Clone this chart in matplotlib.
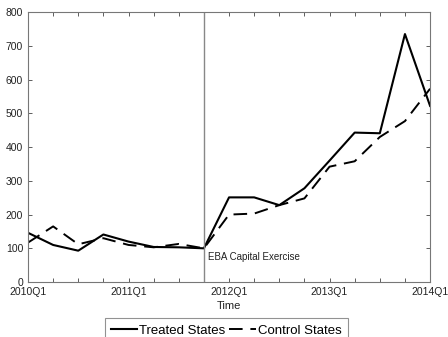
import matplotlib
matplotlib.use("Agg")
import matplotlib.pyplot as plt
import numpy as np

# -----------------------------
# Data
# -----------------------------
quarters = ["2010Q1", "2010Q2", "2010Q3", "2010Q4",
            "2011Q1", "2011Q2", "2011Q3", "2011Q4",
            "2012Q1", "2012Q2", "2012Q3", "2012Q4",
            "2013Q1", "2013Q2", "2013Q3", "2013Q4",
            "2014Q1"]

treated = [146, 110, 93, 141, 120, 104, 103, 100,
           251, 251, 228, 278, 360, 443, 441, 735, 522]

control = [117, 165, 112, 130, 110, 103, 113, 100,
           200, 203, 228, 248, 342, 358, 430, 477, 573]

event_quarter = "2011Q4"
event_label = "EBA Capital Exercise"

y_ticks = [0, 100, 200, 300, 400, 500, 600, 700, 800]

plt.rcParams["font.family"] = ["Liberation Sans", "DejaVu Sans"]

x = np.arange(len(quarters))
event_x = quarters.index(event_quarter)

fig = plt.figure(figsize=(4.48, 3.37), dpi=100)
ax = fig.add_axes([0.0625, 0.163, 0.8975, 0.801])

ax.plot(x, treated, color="black", lw=1.5, label="Treated States")
ax.plot(x, control, color="black", lw=1.4, dashes=(7, 4), label="Control States")
ax.axvline(event_x, color="#888888", lw=1.0)
ax.text(event_x + 0.15, 90, event_label, fontsize=7, va="top", ha="left", color="#222222")

ax.set_xlim(0, len(quarters) - 1)
ax.set_ylim(0, 800)
ax.set_xticks(x)
ax.set_xticklabels([q if q.endswith("Q1") else "" for q in quarters])
ax.set_yticks(y_ticks)
ax.tick_params(direction="in", top=True, right=True, labelsize=7.5,
               length=3, width=0.6, colors="#444444", labelcolor="#222222")
for s in ax.spines.values():
    s.set_color("#777777")
    s.set_linewidth(0.8)

ax.set_xlabel("Time", fontsize=8, color="#222222", labelpad=3)

leg = fig.legend(loc="upper center", bbox_to_anchor=(0.505, 0.055), ncol=2,
                 fontsize=9.5, frameon=True, fancybox=False, edgecolor="#777777",
                 handlelength=2.0, columnspacing=0.3, handletextpad=0.15,
                 borderpad=0.45, borderaxespad=0)
leg.get_frame().set_linewidth(0.8)

fig.savefig("out.png", dpi=100)
